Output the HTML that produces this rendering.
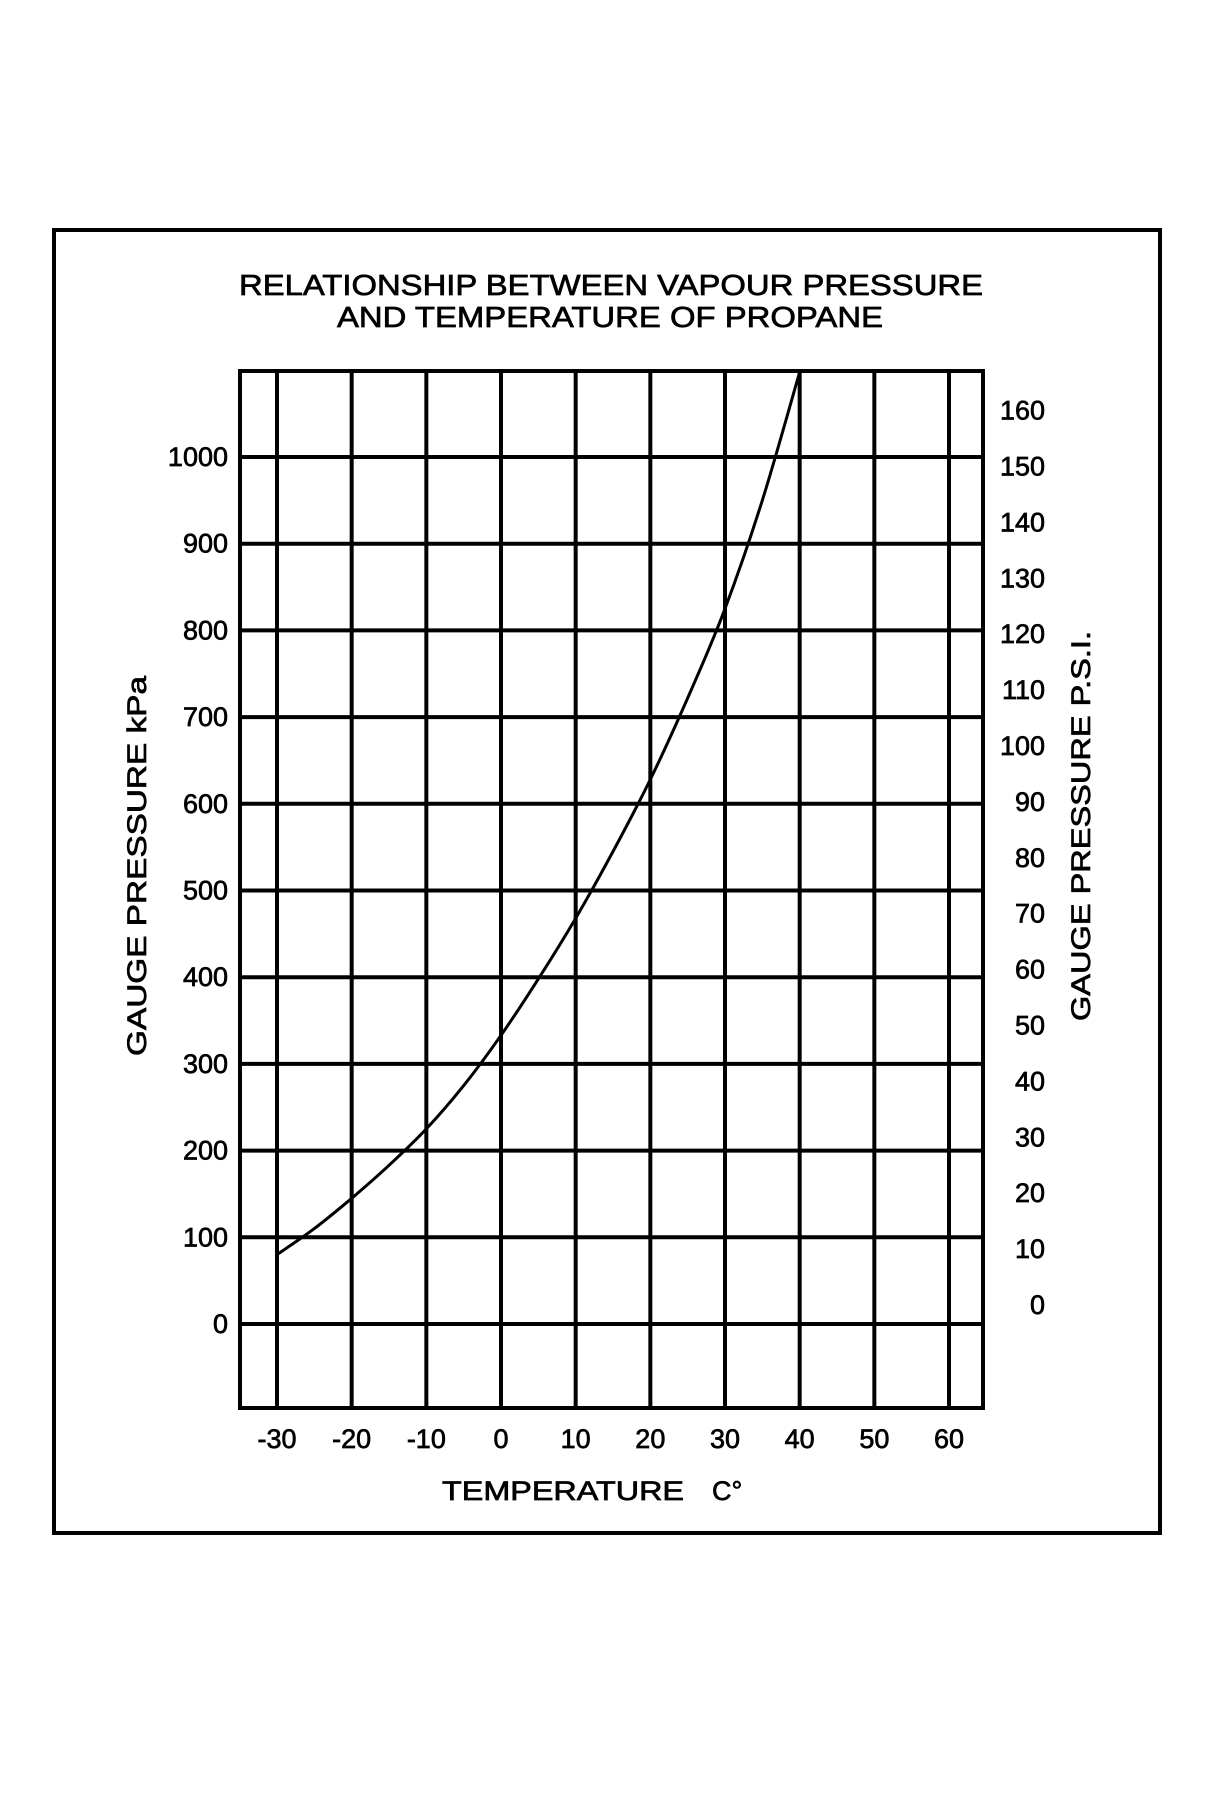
<!DOCTYPE html>
<html><head><meta charset="utf-8"><style>
html,body{margin:0;padding:0;background:#fff;}
svg{display:block;font-family:"Liberation Sans",Arial,sans-serif;}
svg text{stroke:#000;stroke-width:0.7px;}
</style></head><body>
<svg id="chart" width="1221" height="1812" viewBox="0 0 1221 1812">
<rect x="54" y="230" width="1106" height="1303" fill="none" stroke="#000" stroke-width="4"/>
<text x="239" y="295" textLength="744" lengthAdjust="spacingAndGlyphs" font-size="29">RELATIONSHIP BETWEEN VAPOUR PRESSURE</text>
<text x="337" y="327" textLength="546" lengthAdjust="spacingAndGlyphs" font-size="29">AND TEMPERATURE OF PROPANE</text>
<g id="grid"></g>
<g id="curve"></g>
<g id="labels"></g>
<text transform="translate(146,866) rotate(-90)" text-anchor="middle" font-size="27" textLength="380" lengthAdjust="spacingAndGlyphs">GAUGE PRESSURE kPa</text>
<text transform="translate(1090,826) rotate(-90)" text-anchor="middle" font-size="27" textLength="390" lengthAdjust="spacingAndGlyphs">GAUGE PRESSURE P.S.I.</text>
<text x="442" y="1500" font-size="27" textLength="242" lengthAdjust="spacingAndGlyphs">TEMPERATURE</text>
<text x="712" y="1500" font-size="27">C°</text>
</svg>
<script>
const tempTicks=[-30,-20,-10,0,10,20,30,40,50,60];
const kpaTicks=[0,100,200,300,400,500,600,700,800,900,1000];
const psiTicks=[0,10,20,30,40,50,60,70,80,90,100,110,120,130,140,150,160];
const curveTemps=[-30,-25,-20,-15,-10,-5,0,5,10,15,20,25,30,35,40];
const curveKpa=[80,110,145,183,225,275,333,398,468,545,628,722,825,950,1098];
const NS="http://www.w3.org/2000/svg";
const L=240,R=983,T=371,B=1408;
const x=t=>277+(t+30)*7.4667;
const y=p=>1324-p*0.867;
const yp=s=>1305-s*5.59;
function mk(tag,attrs,parent){const e=document.createElementNS(NS,tag);for(const k in attrs)e.setAttribute(k,attrs[k]);parent.appendChild(e);return e;}
const g=document.getElementById('grid'),c=document.getElementById('curve'),lb=document.getElementById('labels');
const box=mk('rect',{x:L,y:T,width:R-L,height:B-T,fill:'none',stroke:'#000','stroke-width':4},g);


tempTicks.forEach(t=>{
 const l=mk('line',{x1:x(t),x2:x(t),y1:T,y2:B,stroke:'#000','stroke-width':4},g);
 
 
 const tx=mk('text',{x:x(t),y:1448,'text-anchor':'middle','font-size':27},lb);
 tx.textContent=t;
 
 
});
kpaTicks.forEach(p=>{
 const l=mk('line',{x1:L,x2:R,y1:y(p),y2:y(p),stroke:'#000','stroke-width':4},g);
 
 
 const tx=mk('text',{x:228,y:y(p)+9,'text-anchor':'end','font-size':27},lb);
 tx.textContent=p;
 
 
});
psiTicks.forEach(s=>{
 const tx=mk('text',{x:1045,y:yp(s)+9,'text-anchor':'end','font-size':27},lb);
 tx.textContent=s;
 
 
});
// smooth Catmull-Rom through data points
const pts=curveTemps.map((t,i)=>[x(t),y(curveKpa[i])]);
let d='M'+pts[0][0].toFixed(1)+','+pts[0][1].toFixed(1);
for(let i=0;i<pts.length-1;i++){
 const p0=pts[Math.max(0,i-1)],p1=pts[i],p2=pts[i+1],p3=pts[Math.min(pts.length-1,i+2)];
 const c1=[p1[0]+(p2[0]-p0[0])/6,p1[1]+(p2[1]-p0[1])/6];
 const c2=[p2[0]-(p3[0]-p1[0])/6,p2[1]-(p3[1]-p1[1])/6];
 d+='C'+c1.map(v=>v.toFixed(1)).join(',')+' '+c2.map(v=>v.toFixed(1)).join(',')+' '+p2.map(v=>v.toFixed(1)).join(',');
}
const path=mk('path',{d:d,fill:'none',stroke:'#000','stroke-width':3,'stroke-linejoin':'round'},c);


</script>
</body></html>
